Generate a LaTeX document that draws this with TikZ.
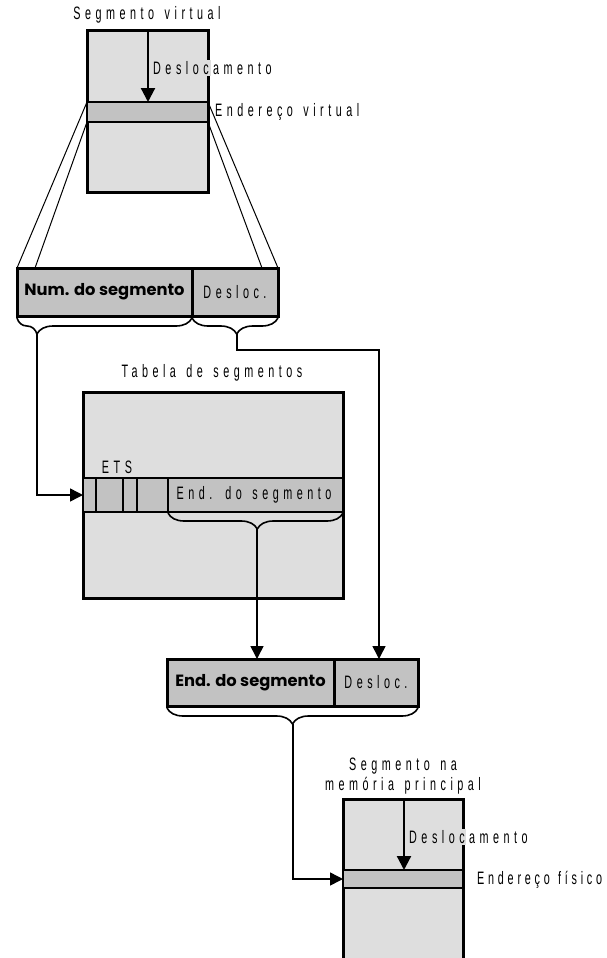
\documentclass[tikz,border=0pt]{standalone}
\usepackage{fontspec}
\setmainfont{Liberation Sans}
\newfontfamily\spacedfont[FakeStretch=0.6,LetterSpace=25,WordSpace=1.4]{Liberation Sans}
\newfontfamily\tightfont[FakeStretch=0.6,LetterSpace=21,WordSpace=1.2]{Liberation Sans}
\newfontfamily\fieldfont{Poppins}
\usetikzlibrary{arrows.meta,decorations.pathreplacing}
\definecolor{lightfill}{RGB}{222,222,222}
\definecolor{bandfill}{RGB}{194,194,194}

\begin{document}
\begin{tikzpicture}[x=1pt,y=-1pt,
    spaced/.style={font=\spacedfont\fontsize{18}{20}\selectfont, inner sep=0pt},
    boldlbl/.style={font=\fieldfont\bfseries\fontsize{16.3}{18}\selectfont},
    segbox/.style={draw, line width=3pt, fill=lightfill, inner sep=0pt, outer sep=0pt},
    bandbox/.style={draw, line width=2.4pt, fill=bandfill, inner sep=0pt, outer sep=0pt},
    fieldbox/.style={draw, line width=3pt, fill=bandfill, inner sep=0pt, outer sep=0pt},
    link/.style={line width=1.5pt, -{Triangle[length=13pt,width=13pt]}},
    bracket/.style={line width=1.6pt, decorate, decoration={brace, mirror, amplitude=16pt, aspect=#1}}]
      \useasboundingbox (0,0) rectangle (607,958);

      % segmento virtual
      \node[segbox, minimum width=121pt, minimum height=161pt] (vseg) at (147.5,111.5) {};
      \node[bandbox, minimum width=121pt, minimum height=20pt] (vband) at (147.5,112) {};
      \node[spaced] (vsegl) at (147,15) {Segmento virtual};
      \draw[line width=2.2pt, -{Triangle[length=14pt,width=14pt]}] (vseg.north -| 148,0) -- (vband.north -| 148,0);
      \fill[lightfill] (205,60) rectangle (211,76);
      \node[spaced, anchor=west] (vdesl) at (153,68) {Deslocamento};
      \node[spaced, anchor=west] (vend) at (215,112) {Endereço virtual};

      % endereco virtual
      \node[fieldbox, minimum width=175pt, minimum height=48pt] (num) at (104.5,292) {};
      \node[boldlbl] at (num) {Num. do segmento};
      \node[fieldbox, minimum width=86pt, minimum height=48pt] (desl) at (235,292) {};
      \node[spaced] at (desl) {Desloc.};
      \coordinate (numin) at (35,268);
      \coordinate (deslin) at (262,268);
      \draw[line width=1pt] (vband.north west) -- (num.north west);
      \draw[line width=1pt] (vband.south west) -- (numin);
      \draw[line width=1pt] (vband.north east) -- (desl.north east);
      \draw[line width=1pt] (vband.south east) -- (deslin);
      \draw[bracket=0.114] (17,318) -- (192,318);
      \draw[bracket=0.52] (192,318) -- (278,318);
      \coordinate (numtip) at (37,334);
      \coordinate (desltip) at (237,334);

      % tabela de segmentos
      \node[segbox, minimum width=260pt, minimum height=206pt] (tab) at (213,495) {};
      \node[spaced] (tabl) at (212,373) {Tabela de segmentos};
      \node[bandbox, minimum width=260pt, minimum height=34pt] (trow) at (213,495) {};
      \foreach \x in {96,123,137,168}
        \draw[line width=2.4pt] (\x,478) -- (\x,512);
      \node[spaced] (ets) at (117,467) {ETS};
      \node[spaced] (tend) at (254,495) {End. do segmento};
      \draw[bracket=0.51] (168,513) -- (343,513);
      \coordinate (tabtip) at (257,529);

      % endereco fisico
      \node[fieldbox, minimum width=167pt, minimum height=47pt] (eend) at (250.5,682.5) {};
      \node[boldlbl] at (eend) {End. do segmento};
      \node[fieldbox, minimum width=84pt, minimum height=47pt] (edesl) at (376,682.5) {};
      \node[spaced] at (edesl) {Desloc.};
      \draw[bracket=0.5] (167,708) -- (418,708);
      \coordinate (endtip) at (293,724);

      % segmento na memoria principal
      \node[segbox, minimum width=120pt, minimum height=220pt] (mseg) at (403,909) {};
      \node[bandbox, minimum width=120pt, minimum height=18pt] (mband) at (403,879) {};
      \node[spaced, align=center] (msegl) at (403,776) {Segmento na\\memória principal};
      \draw[line width=2.2pt, -{Triangle[length=14pt,width=14pt]}] (mseg.north -| 404,0) -- (mband.north -| 404,0);
      \fill[lightfill] (460,829) rectangle (466,845);
      \node[spaced, anchor=west] (mdesl) at (409,837) {Deslocamento};
      \node[spaced, font=\tightfont\fontsize{18}{20}\selectfont, anchor=west] (mend) at (477,880) {Endereço físico};

      % ligacoes
      \draw[link] (numtip) |- (trow.west);
      \draw[link] (desltip) -- ++(0,16) -| (379,659);
      \draw[link] (tabtip) -- (tabtip |- eend.north);
      \draw[link] (endtip) |- (mband.west);
    \end{tikzpicture}
\end{document}
